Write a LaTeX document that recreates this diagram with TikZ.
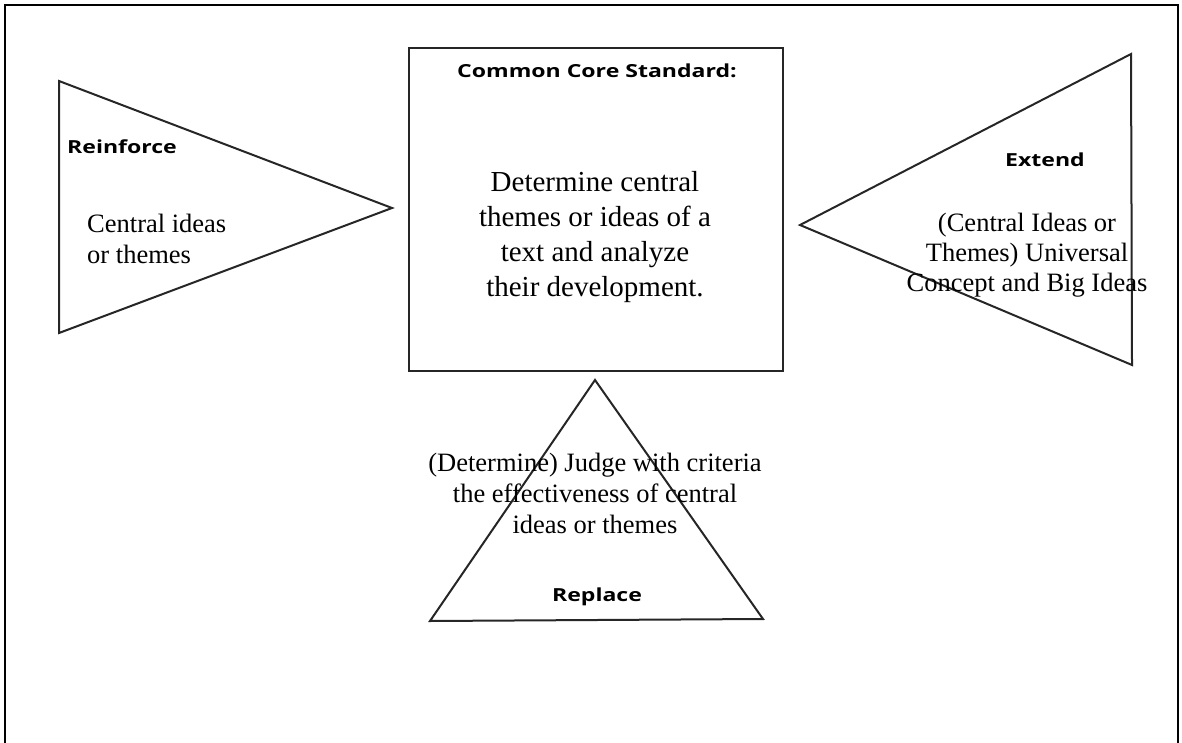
\documentclass[tikz,border=0pt]{standalone}
\usepackage{fontspec}
\setmainfont{Liberation Serif}
\newfontfamily\labelfont[FakeStretch=1.28]{Open Sans}
\begin{document}
\begin{tikzpicture}[x=1pt,y=-1pt,
  shape line/.style={draw=black!85,line width=2pt,line join=miter},
  lbl/.style={inner sep=0pt,font=\labelfont\bfseries\fontsize{18}{22}\selectfont},
  body/.style={inner sep=0pt,align=center,font=\fontsize{26.5}{31}\selectfont},
]
\useasboundingbox (0,0) rectangle (1182,743);
% outer frame (open at bottom)
\draw[line width=2pt] (5,743) -- (5,5) -- (1178,5) -- (1178,743);
% central box
\node[shape line,minimum width=374pt,minimum height=323pt,anchor=north west,inner sep=0pt] (box) at (408,47) {};
% triangles
\coordinate (L1) at (59,81); \coordinate (L2) at (59,333); \coordinate (L3) at (392,208);
\draw[shape line] (L1) -- (L3) -- (L2) -- cycle;
\coordinate (R1) at (1131,54); \coordinate (R2) at (1132,365); \coordinate (R3) at (800,225);
\draw[shape line] (R1) -- (R3) -- (R2) -- cycle;
\coordinate (B1) at (595,380); \coordinate (B2) at (430,621); \coordinate (B3) at (763,619);
\draw[shape line] (B1) -- (B2) -- (B3) -- cycle;
% labels
\node[lbl] (ccs) at (597,71) {Common Core Standard:};
\node[lbl,anchor=west] (reinf) at (67,147) {Reinforce};
\node[lbl] (ext) at (1045,160) {Extend};
\node[lbl] (repl) at (597,597) {Replace};
% body texts
\node[body,font=\fontsize{29}{35}\selectfont] (std) at (595,237) {Determine central\\themes or ideas of a\\text and analyze\\their development.};
\node[body,align=left,anchor=west] (rtext) at (87,239) {Central ideas\\or themes};
\node[body,font=\fontsize{26.5}{30}\selectfont] (etext) at (1027,255) {(Central Ideas or\\Themes) Universal\\Concept and Big Ideas};
\node[body] (btext) at (595,493) {(Determine) Judge with criteria\\the effectiveness of central\\ideas or themes};
\end{tikzpicture}
\end{document}
